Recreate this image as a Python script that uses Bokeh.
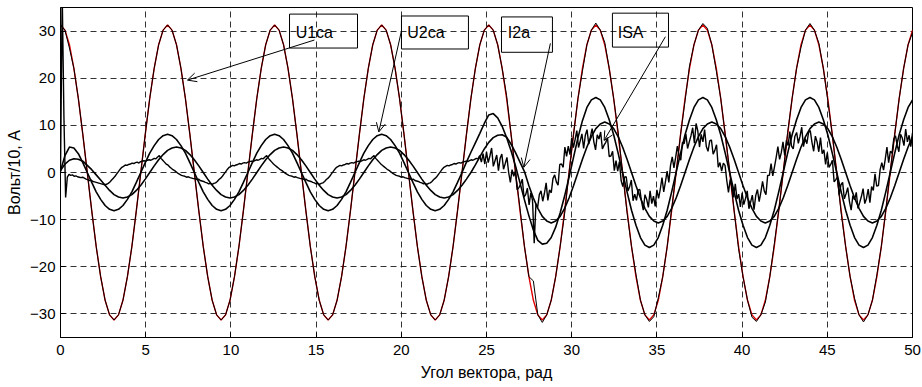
import numpy as np
from bokeh.plotting import figure
from bokeh.models import (Range1d, BoxAnnotation, Label, Arrow, OpenHead, FixedTicker)
from bokeh.embed import file_html
from bokeh.resources import INLINE

# ---------------- data ----------------
ANGLE_STEP = np.pi / 12      # sampling step of the smooth traces, rad
NOISE_STEP = 0.1             # sampling step of the current trace, rad

x_ticks = [0, 5, 10, 15, 20, 25, 30, 35, 40, 45, 50]
y_ticks = [-30, -20, -10, 0, 10, 20, 30]

# U1ca, reference (red) trace
u1ca_ref = [
    31.3, 30.2, 27.1, 22.1, 15.7, 8.1, 0.0, -8.1, -15.7, -22.1, -27.1, -30.2, -31.3, -30.2, -27.1, -22.1, -15.7, -8.1, 0.0, 8.1, 15.7, 22.1, 27.1, 30.2,
    31.3, 30.2, 27.1, 22.1, 15.7, 8.1, 0.0, -8.1, -15.7, -22.1, -27.1, -30.2, -31.3, -30.2, -27.1, -22.1, -15.7, -8.1, 0.0, 8.1, 15.7, 22.1, 27.1, 30.2,
    31.3, 30.2, 27.1, 22.1, 15.7, 8.1, 0.0, -8.1, -15.7, -22.1, -27.1, -30.2, -31.3, -30.2, -27.1, -22.1, -15.7, -8.1, 0.0, 8.1, 15.7, 22.1, 27.1, 30.2,
    31.3, 30.2, 27.1, 22.1, 15.7, 8.1, 0.0, -8.1, -15.7, -22.1, -27.1, -30.2, -31.3, -30.2, -27.1, -22.1, -15.7, -8.1, 0.0, 8.1, 15.7, 22.1, 27.1, 30.2,
    31.3, 30.2, 27.1, 22.1, 15.7, 8.1, 0.0, -8.1, -15.7, -22.1, -27.1, -30.2, -31.3, -30.2, -27.1, -22.1, -15.7, -8.1, 0.0, 8.1, 15.7, 22.1, 27.1, 30.2,
    31.3, 30.2, 27.1, 22.1, 15.7, 8.1, 0.0, -8.1, -15.7, -22.1, -27.1, -30.2, -31.3, -30.2, -27.1, -22.1, -15.7, -8.1, 0.0, 8.1, 15.7, 22.1, 27.1, 30.2,
    31.3, 30.2, 27.1, 22.1, 15.7, 8.1, 0.0, -8.1, -15.7, -22.1, -27.1, -30.2, -31.3, -30.2, -27.1, -22.1, -15.7, -8.1, 0.0, 8.1, 15.7, 22.1, 27.1, 30.2,
    31.3, 30.2, 27.1, 22.1, 15.7, 8.1, 0.0, -8.1, -15.7, -22.1, -27.1, -30.2, -31.3, -30.2, -27.1, -22.1, -15.7, -8.1, 0.0, 8.1, 15.7, 22.1, 27.1, 30.2,
]

# U1ca, measured (black) trace
u1ca = [
    31.3, 30.2, 26.4, 22.1, 15.7, 8.1, 0.0, -8.1, -15.7, -22.1, -27.1, -30.2, -31.3, -30.2, -27.1, -22.1, -15.7, -8.1, 0.0, 8.1, 15.7, 22.1, 27.1, 30.2,
    31.3, 30.2, 27.1, 22.1, 15.7, 8.1, 0.0, -8.1, -15.7, -22.1, -27.1, -30.2, -31.3, -30.2, -27.1, -22.1, -15.7, -8.1, 0.0, 8.1, 15.7, 22.1, 27.1, 30.2,
    31.3, 30.2, 27.1, 22.1, 15.7, 8.1, 0.0, -8.1, -15.7, -22.1, -27.1, -30.2, -31.3, -30.2, -27.1, -22.1, -15.7, -8.1, 0.0, 8.1, 15.7, 22.1, 27.1, 30.2,
    31.3, 30.2, 27.1, 22.1, 15.7, 8.1, 0.0, -8.1, -15.7, -22.1, -27.1, -30.2, -31.3, -30.2, -27.1, -22.1, -15.7, -8.1, 0.0, 8.1, 15.7, 22.1, 27.1, 30.2,
    31.3, 30.2, 27.1, 22.1, 16.3, 8.1, 0.0, -7.6, -15.7, -22.1, -23.0, -30.2, -31.8, -30.2, -27.1, -22.1, -15.7, -8.8, 0.0, 8.1, 15.7, 21.5, 27.1, 30.2,
    31.7, 30.2, 27.6, 22.1, 15.7, 8.6, 0.0, -8.5, -15.7, -21.6, -27.1, -30.2, -31.6, -30.6, -26.6, -22.1, -15.7, -7.7, 0.0, 8.1, 15.2, 22.6, 27.1, 30.2,
    31.6, 30.6, 27.1, 21.6, 15.7, 8.1, 0.5, -8.1, -16.2, -22.1, -27.1, -30.7, -31.6, -30.2, -27.5, -22.1, -15.2, -8.1, 0.0, 8.5, 15.7, 22.1, 26.6, 30.2,
    31.6, 30.2, 27.4, 22.1, 15.2, 8.1, 0.0, -8.6, -15.7, -22.1, -26.7, -30.2, -31.7, -30.2, -27.1, -21.7, -15.7, -8.1, 0.4, 8.1, 15.7, 22.1, 27.1, 29.7,
]

# U2ca (larger smooth sinusoid)
u2ca = [
    0.3, 3.6, 5.4, 5.2, 4.0, 2.1, 0.0, -2.1, -4.1, -5.7, -7.0, -7.8, -8.1, -7.8, -7.0, -5.7, -4.1, -2.1, 0.0, 2.1, 4.1, 5.7, 7.0, 7.8,
    8.1, 7.8, 7.0, 5.7, 4.1, 2.1, 0.0, -2.1, -4.1, -5.7, -7.0, -7.8, -8.1, -7.8, -7.0, -5.7, -4.1, -2.1, 0.0, 2.1, 4.1, 5.7, 7.0, 7.8,
    8.1, 7.8, 7.0, 5.7, 4.1, 2.1, 0.0, -2.1, -4.1, -5.7, -7.0, -7.8, -8.1, -7.8, -7.0, -5.7, -4.1, -2.1, 0.0, 2.1, 4.1, 5.7, 7.0, 7.8,
    8.1, 7.8, 7.0, 5.7, 4.1, 2.1, 0.0, -2.1, -4.1, -5.7, -7.0, -7.8, -8.1, -7.8, -7.0, -5.7, -4.1, -2.1, 0.0, 2.2, 4.3, 6.3, 8.3, 10.4,
    12.2, 12.5, 11.6, 9.8, 7.4, 4.6, 1.4, -2.2, -5.8, -9.2, -12.2, -14.4, -15.2, -15.0, -13.8, -11.6, -8.6, -5.0, -1.0, 3.2, 7.4, 11.0, 13.8, 15.4,
    15.9, 15.4, 13.8, 11.2, 8.0, 4.1, 0.0, -4.1, -8.0, -11.2, -13.8, -15.4, -15.9, -15.4, -13.8, -11.2, -8.0, -4.1, 0.0, 4.1, 8.0, 11.2, 13.8, 15.4,
    15.9, 15.4, 13.8, 11.2, 8.0, 4.1, 0.0, -4.1, -8.0, -11.2, -13.8, -15.4, -15.9, -15.4, -13.8, -11.2, -8.0, -4.1, 0.0, 4.1, 8.0, 11.2, 13.8, 15.4,
    15.9, 15.4, 13.8, 11.2, 8.0, 4.1, 0.0, -4.1, -8.0, -11.2, -13.8, -15.4, -15.9, -15.4, -13.8, -11.2, -8.0, -4.1, 0.0, 4.1, 8.0, 11.2, 13.8, 15.4,
]

# I2a (smaller smooth sinusoid)
i2a = [
    0.4, 1.8, 2.6, 2.9, 2.8, 2.4, 1.5, 0.6, -0.5, -1.6, -2.7, -3.8, -4.7, -5.2, -5.4, -5.2, -4.7, -3.8, -2.7, -1.4, 0.0, 1.4, 2.7, 3.8,
    4.7, 5.2, 5.4, 5.2, 4.7, 3.8, 2.7, 1.4, 0.0, -1.4, -2.7, -3.8, -4.7, -5.2, -5.4, -5.2, -4.7, -3.8, -2.7, -1.4, 0.0, 1.4, 2.7, 3.8,
    4.7, 5.2, 5.4, 5.2, 4.7, 3.8, 2.7, 1.4, 0.0, -1.4, -2.7, -3.8, -4.7, -5.2, -5.4, -5.2, -4.7, -3.8, -2.7, -1.4, 0.0, 1.4, 2.7, 3.8,
    4.7, 5.2, 5.4, 5.2, 4.7, 3.8, 2.7, 1.4, 0.0, -1.4, -2.7, -3.8, -4.7, -5.2, -5.4, -5.2, -4.7, -3.8, -2.7, -1.4, 0.0, 1.6, 3.3, 5.0,
    6.4, 7.4, 7.9, 8.0, 7.5, 6.0, 4.2, 2.2, 0.2, -2.8, -5.4, -7.6, -9.3, -10.3, -10.7, -10.3, -9.3, -7.6, -5.4, -2.8, 0.0, 2.8, 5.4, 7.6,
    9.3, 10.3, 10.7, 10.3, 9.3, 7.6, 5.4, 2.8, 0.0, -2.8, -5.4, -7.6, -9.3, -10.3, -10.7, -10.3, -9.3, -7.6, -5.4, -2.8, 0.0, 2.8, 5.4, 7.6,
    9.3, 10.3, 10.7, 10.3, 9.3, 7.6, 5.4, 2.8, 0.0, -2.8, -5.4, -7.6, -9.3, -10.3, -10.7, -10.3, -9.3, -7.6, -5.4, -2.8, 0.0, 2.8, 5.4, 7.6,
    9.3, 10.3, 10.7, 10.3, 9.3, 7.6, 5.4, 2.8, 0.0, -2.8, -5.4, -7.6, -9.3, -10.3, -10.7, -10.3, -9.3, -7.6, -5.4, -2.8, 0.0, 2.8, 5.4, 7.6,
]

# ISA (noisy current), one value every NOISE_STEP rad
isa = [
    0.0, 38.0, 12.0, -5.3, -1.0, -0.4, -0.6, -0.5, -0.8, -0.7,
    -0.9, -1.0, -1.1, -1.0, -1.2, -1.4, -1.5, -1.7, -1.6, -1.9,
    -2.0, -2.1, -2.2, -2.3, -2.4, -2.5, -2.6, -2.5, -2.3, -2.0,
    -1.6, -1.2, -0.8, -0.3, 0.2, 0.7, 1.1, 1.3, 1.6, 1.5,
    1.7, 1.8, 2.0, 1.9, 2.1, 2.2, 2.0, 2.3, 2.4, 2.5,
    2.4, 2.6, 2.7, 2.6, 2.8, 3.0, 2.9, 3.3, 3.6, 3.0,
    2.6, 2.2, 1.8, 1.6, 1.2, 0.9, 0.6, 0.4, 0.1, -0.2,
    -0.4, -0.6, -0.7, -0.8, -1.0, -0.9, -1.1, -1.2, -1.3, -1.3,
    -1.5, -1.4, -1.7, -1.8, -1.9, -2.1, -2.2, -2.4, -2.3, -2.5,
    -2.3, -2.2, -1.9, -1.5, -1.2, -0.8, -0.3, 0.2, 0.7, 1.1,
    1.3, 1.5, 1.4, 1.6, 1.7, 1.9, 1.8, 2.0, 2.1, 2.0,
    2.2, 2.3, 2.4, 2.3, 2.5, 2.7, 2.6, 2.8, 3.0, 2.9,
    3.3, 3.6, 3.0, 2.6, 2.2, 1.8, 1.5, 1.2, 0.9, 0.6,
    0.4, 0.1, -0.2, -0.4, -0.6, -0.7, -0.8, -1.0, -0.9, -1.1,
    -1.2, -1.3, -1.3, -1.5, -1.4, -1.7, -1.8, -1.9, -2.1, -2.2,
    -2.4, -2.3, -2.5, -2.3, -2.2, -1.9, -1.5, -1.2, -0.8, -0.3,
    0.2, 0.7, 1.1, 1.3, 1.5, 1.4, 1.6, 1.7, 1.9, 1.8,
    2.0, 2.1, 2.0, 2.2, 2.3, 2.4, 2.3, 2.5, 2.7, 2.6,
    2.8, 3.0, 2.9, 3.3, 3.6, 3.0, 2.6, 2.2, 1.8, 1.5,
    1.2, 0.9, 0.6, 0.4, 0.1, -0.2, -0.4, -0.6, -0.7, -0.8,
    -1.0, -0.9, -1.1, -1.2, -1.3, -1.3, -1.5, -1.4, -1.7, -1.8,
    -1.9, -2.1, -2.2, -2.4, -2.3, -2.5, -2.3, -2.2, -1.9, -1.5,
    -1.2, -0.8, -0.3, 0.2, 0.7, 1.1, 1.3, 1.5, 1.4, 1.6,
    1.7, 1.9, 1.8, 2.0, 2.1, 2.0, 2.2, 2.3, 2.4, 2.3,
    2.5, 2.7, 2.6, 2.8, 3.0, 2.9, 3.6, 2.2, 4.0, 1.8,
    4.4, 2.1, 3.5, 5.2, 1.3, 2.5, 3.7, 0.4, 3.0, 3.9,
    0.7, 1.9, 3.2, 0.0, -2.1, 0.6, -0.8, 0.3, -3.7, -3.2,
    -2.5, -1.4, -5.2, -4.7, -3.3, -6.9, -4.3, -5.9, -15.0, -6.7,
    -7.4, -4.7, -3.9, -6.1, -4.4, -2.2, -5.9, -3.7, -4.3, -1.3,
    -0.5, -2.0, -2.7, 1.7, 1.8, 1.1, 5.4, 3.4, 5.6, 3.8,
    7.3, 5.3, 7.0, 8.9, 5.3, 6.7, 8.2, 5.1, 7.9, 9.1,
    6.0, 7.6, 9.3, 6.5, 4.8, 8.0, 7.1, 8.6, 5.0, 5.8,
    6.4, 7.4, 3.4, 3.5, 4.5, 0.4, 2.5, 0.3, 2.3, -1.7,
    -3.0, -1.0, -0.9, -3.9, -3.0, -1.6, -6.0, -4.6, -5.9, -3.7,
    -3.6, -6.2, -8.0, -4.7, -5.7, -7.4, -3.9, -6.6, -5.0, -7.2,
    -3.7, -5.5, -3.5, -1.1, -4.1, -2.0, 0.3, -2.1, 1.5, 3.3,
    1.0, 3.2, 5.6, 3.6, 2.6, 6.4, 6.1, 8.2, 5.1, 6.5,
    7.8, 9.5, 6.2, 10.4, 8.8, 5.4, 8.1, 6.5, 9.1, 5.5,
    4.5, 6.7, 6.9, 3.9, 4.7, 5.9, 1.1, 2.1, 0.3, 2.0,
    1.5, -1.7, -4.2, -1.5, -3.0, -5.3, -2.4, -5.6, -4.6, -7.3,
    -4.3, -6.8, -5.5, -3.9, -7.7, -6.3, -4.8, -7.9, -4.9, -3.6,
    -6.2, -4.2, -1.9, -3.9, -4.7, -0.6, -0.6, 1.9, -0.7, 1.2,
    3.2, 5.5, 2.8, 4.2, 6.5, 3.6, 6.8, 5.7, 8.7, 5.6,
    5.0, 7.7, 8.5, 6.2, 7.7, 9.6, 5.5, 7.2, 6.1, 8.5,
    8.9, 6.4, 4.5, 7.7, 6.5, 4.4, 7.4, 4.0, 4.8, 1.7,
    4.2, 1.1, 1.7, 2.6, -2.0, -1.5, -0.9, -4.8, -2.6, -2.1,
    -5.6, -4.5, -3.2, -6.2, -8.0, -4.9, -5.8, -4.2, -7.6, -6.4,
    -5.1, -3.4, -6.6, -5.5, -3.5, -6.4, -3.0, -3.8, -0.3, -2.9,
    -2.8, 0.6, 2.1, 0.5, 2.8, 5.4, 2.1, 4.5, 4.1, 7.1,
    7.8, 5.8, 4.4, 8.1, 7.3, 5.7, 9.2, 6.5, 7.9, 5.5,
    8.4,
]

# ---------------- figure ----------------
x_smooth = np.arange(len(u1ca)) * ANGLE_STEP
x_noise = np.arange(len(isa)) * NOISE_STEP

FONT = "Liberation Sans"

p = figure(frame_width=852, frame_height=330,
           x_range=Range1d(0, 50), y_range=Range1d(-35, 35),
           output_backend="svg", toolbar_location=None,
           min_border_left=60, min_border_right=10,
           min_border_top=7, min_border_bottom=50,
           background_fill_color="white", border_fill_color="white")

p.outline_line_color = "black"
p.outline_line_width = 1
p.outline_line_alpha = 1

for ax in (p.xaxis[0], p.yaxis[0]):
    ax.major_tick_in = 5
    ax.major_tick_out = 0
    ax.minor_tick_in = 0
    ax.minor_tick_out = 0
    ax.axis_line_color = "black"
    ax.major_tick_line_color = "black"
    ax.major_label_text_font = FONT
    ax.major_label_text_font_size = "15px"
    ax.major_label_text_color = "black"
    ax.axis_label_text_font = FONT
    ax.axis_label_text_font_size = "16px"
    ax.axis_label_text_font_style = "normal"
    ax.axis_label_text_color = "black"

p.xaxis.ticker = FixedTicker(ticks=x_ticks)
p.yaxis.ticker = FixedTicker(ticks=y_ticks)
p.xaxis.axis_label = "Угол вектора, рад"
p.yaxis.axis_label = "Вольт/10, А"
p.xaxis.major_label_standoff = 7
p.xaxis.axis_label_standoff = 6
p.yaxis.major_label_standoff = 5
p.yaxis.axis_label_standoff = 4

for g in (p.xgrid[0], p.ygrid[0]):
    g.grid_line_color = "black"
    g.grid_line_alpha = 0.8
    g.grid_line_dash = "6 4"
    g.grid_line_width = 1

p.line(x_smooth, u1ca_ref, line_color="#e00000", line_width=1.4)
p.line(x_smooth, u1ca, line_color="black", line_width=1.0)
p.line(x_smooth, u2ca, line_color="black", line_width=1.6)
p.line(x_smooth, i2a, line_color="black", line_width=1.6)
p.line(x_noise, isa, line_color="black", line_width=1.4)

# ---------------- callouts ----------------
callouts = [
    # text, box (left, right, bottom, top), text anchor, arrow start, arrow end
    ("U1ca", (13.44, 17.43, 26.4, 33.6), (13.8, 29.8), (14.9, 28.1), (7.45, 19.6)),
    ("U2ca", (20.01, 23.94, 26.2, 33.2), (20.35, 29.8), (20.0, 29.9), (18.68, 8.6)),
    ("I2a", (25.88, 28.87, 25.5, 33.0), (26.25, 29.6), (28.75, 27.4), (27.19, 1.1)),
    ("ISA", (32.39, 35.68, 26.6, 33.8), (32.7, 29.8), (35.5, 28.8), (31.9, 6.8)),
]
for text, (l, r, b, t), (tx, ty), (xs, ys), (xe, ye) in callouts:
    p.add_layout(BoxAnnotation(left=l, right=r, bottom=b, top=t,
                               fill_alpha=0, line_color="black", line_width=1,
                               line_alpha=1))
    p.add_layout(Label(x=tx, y=ty, text=text, text_font=FONT,
                       text_font_size="16px", text_baseline="middle",
                       text_color="black"))
    p.add_layout(Arrow(end=OpenHead(size=9, line_width=1, line_color="black"),
                       x_start=xs, y_start=ys, x_end=xe, y_end=ye,
                       line_width=1, line_color="black"))

open("out.html", "w").write(file_html(p, INLINE))
